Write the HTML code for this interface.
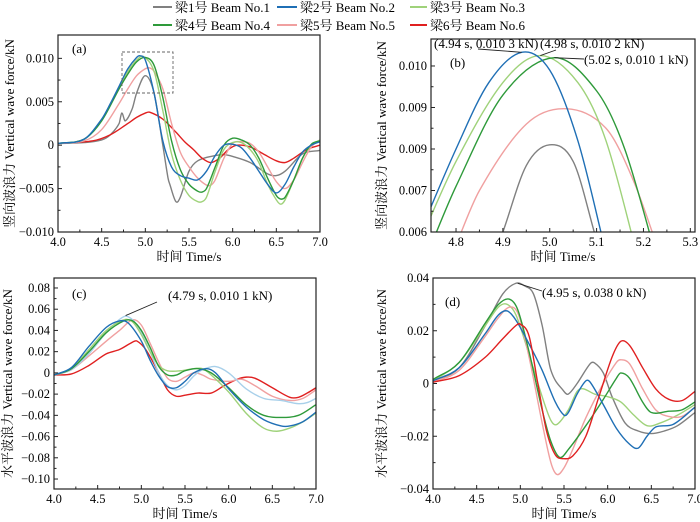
<!DOCTYPE html>
<html><head><meta charset="utf-8">
<style>
html,body{margin:0;padding:0;background:#fff;}
svg{display:block;font-family:"Liberation Serif","Noto Serif CJK SC","Noto Sans CJK SC",serif;}
</style></head>
<body>
<svg id="chart" width="700" height="522" viewBox="0 0 700 522" xmlns="http://www.w3.org/2000/svg">
<g id="legend" font-size="13">
  <g><line x1="153" y1="7" x2="172" y2="7" stroke="#808080" stroke-width="2"/><text x="175" y="12">梁1号 Beam No.1</text></g>
  <g><line x1="277" y1="7" x2="297" y2="7" stroke="#1f6fb5" stroke-width="2"/><text x="300" y="12">梁2号 Beam No.2</text></g>
  <g><line x1="410" y1="7" x2="427" y2="7" stroke="#9fd27a" stroke-width="2"/><text x="430" y="12">梁3号 Beam No.3</text></g>
  <g><line x1="153" y1="25" x2="172" y2="25" stroke="#2e9a3a" stroke-width="2"/><text x="175" y="30">梁4号 Beam No.4</text></g>
  <g><line x1="277" y1="25" x2="297" y2="25" stroke="#f0a0a0" stroke-width="2"/><text x="300" y="30">梁5号 Beam No.5</text></g>
  <g><line x1="410" y1="25" x2="427" y2="25" stroke="#e02020" stroke-width="2"/><text x="430" y="30">梁6号 Beam No.6</text></g>
</g>
</svg>
<script>
// ---------- Panel (a) data ----------
const aT1=[4.0,4.3,4.5,4.6,4.7,4.73,4.77,4.85,4.9,5.0,5.1,5.2,5.26,5.28,5.35,5.4,5.5,5.6,5.8,5.9,6.0,6.2,6.4,6.5,6.6,6.8,7.0];
const aV1=[0.0002,0.0003,0.0006,0.0012,0.0025,0.0037,0.0028,0.0042,0.006,0.008,0.006,0.0,-0.0038,-0.0045,-0.0065,-0.006,-0.003,-0.0018,-0.0012,-0.0011,-0.0013,-0.002,-0.0033,-0.0035,-0.003,-0.001,-0.0006];
const aT2=[4.0,4.3,4.5,4.6,4.7,4.8,4.9,4.94,5.0,5.1,5.2,5.3,5.4,5.5,5.6,5.7,5.8,5.9,6.0,6.1,6.2,6.3,6.4,6.5,6.6,6.7,6.8,6.9,7.0];
const aV2=[0.0002,0.0007,0.003,0.0048,0.0068,0.0088,0.0101,0.0103,0.0098,0.006,0.0005,-0.0025,-0.0035,-0.0038,-0.004,-0.003,-0.0012,0.0,0.0001,-0.0003,-0.0015,-0.003,-0.0045,-0.0055,-0.0045,-0.0025,-0.0008,0.0,0.0004];
const aT3=[4.0,4.3,4.5,4.7,4.8,4.9,4.98,5.1,5.2,5.3,5.4,5.5,5.6,5.65,5.7,5.8,5.9,6.0,6.1,6.2,6.3,6.4,6.5,6.55,6.6,6.7,6.8,6.9,7.0];
const aV3=[0.0002,0.0007,0.0029,0.0066,0.0085,0.0098,0.0102,0.0085,0.004,-0.001,-0.004,-0.0058,-0.0065,-0.0065,-0.006,-0.003,-0.0005,0.0003,0.0003,-0.0005,-0.002,-0.0045,-0.0063,-0.0068,-0.0063,-0.004,-0.0015,0.0,0.0006];
const aT4=[4.0,4.3,4.5,4.7,4.8,4.9,5.0,5.1,5.2,5.3,5.4,5.5,5.6,5.65,5.7,5.8,5.9,6.0,6.1,6.2,6.3,6.4,6.5,6.55,6.6,6.7,6.8,6.9,7.0];
const aV4=[0.0002,0.0007,0.0028,0.0065,0.0082,0.0096,0.0101,0.0092,0.0055,0.0005,-0.0028,-0.0045,-0.0053,-0.0054,-0.005,-0.0025,0.0,0.0008,0.0006,0.0,-0.0015,-0.0038,-0.0058,-0.0062,-0.006,-0.004,-0.0015,0.0001,0.0005];
const aT5=[4.0,4.3,4.5,4.7,4.8,4.9,5.0,5.05,5.1,5.2,5.3,5.4,5.5,5.6,5.7,5.75,5.8,5.9,6.0,6.1,6.2,6.3,6.4,6.5,6.6,6.7,6.8,6.9,7.0];
const aV5=[0.0002,0.0005,0.0018,0.0048,0.0065,0.008,0.0088,0.0089,0.0085,0.0065,0.0025,-0.0008,-0.0025,-0.0038,-0.0046,-0.0046,-0.004,-0.0015,0.0002,0.0004,0.0002,-0.0008,-0.0025,-0.0042,-0.005,-0.004,-0.002,-0.0002,0.0006];
const aT6=[4.0,4.4,4.6,4.8,4.9,5.0,5.05,5.2,5.35,5.45,5.55,5.65,5.75,5.85,5.95,6.05,6.2,6.35,6.5,6.6,6.7,6.85,7.0];
const aV6=[0.0002,0.0005,0.0012,0.0025,0.0032,0.0037,0.0038,0.003,0.0015,0.0004,-0.0005,-0.0015,-0.002,-0.0015,-0.0005,0.0,-0.0002,-0.001,-0.0018,-0.002,-0.0015,-0.0005,0.0];
const aXTicks=[4.0,4.5,5.0,5.5,6.0,6.5,7.0];
const aXLabels=["4.0","4.5","5.0","5.5","6.0","6.5","7.0"];
const aYTicks=[0.010,0.005,0,-0.005,-0.010];
const aYLabels=["0.010","0.005","0","\u22120.005","\u22120.010"];

// ---------- Panel (b) data ----------
const bT1=[4.87,4.9,4.95,5.0,5.05,5.095,5.12];
const bV1=[0.0051,0.006,0.0076,0.0081,0.0077,0.006,0.0049];
const bT2=[4.72,4.8,4.87,4.94,5.0,5.06,5.12];
const bV2=[0.0059,0.008,0.0096,0.01033,0.0099,0.0082,0.0055];
const bT3=[4.72,4.8,4.9,4.98,5.06,5.12,5.19];
const bV3=[0.0057,0.0077,0.0096,0.01025,0.0096,0.0082,0.0053];
const bT4=[4.74,4.8,4.9,5.01,5.1,5.16,5.23];
const bV4=[0.0055,0.0071,0.0093,0.0102,0.0094,0.0080,0.0053];
const bT5=[4.79,4.85,4.95,5.035,5.12,5.18,5.24];
const bV5=[0.0054,0.0070,0.0086,0.00897,0.0085,0.0072,0.0053];
const bXTicks=[4.8,4.9,5.0,5.1,5.2,5.3];
const bXLabels=["4.8","4.9","5.0","5.1","5.2","5.3"];
const bYTicks=[0.010,0.009,0.008,0.007,0.006];
const bYLabels=["0.010","0.009","0.009","0.007","0.006"];

// ---------- Panel (c) data ----------
const cT2=[4.0,4.2,4.4,4.6,4.75,4.85,5.0,5.1,5.2,5.3,5.4,5.5,5.6,5.75,5.85,6.0,6.2,6.4,6.6,6.7,6.85,7.0];
const cV2=[-0.002,0.005,0.025,0.043,0.049,0.047,0.03,0.012,-0.003,-0.013,-0.014,-0.008,0.0,0.004,0.0,-0.015,-0.032,-0.044,-0.05,-0.05,-0.046,-0.037];
const cTL=[4.0,4.2,4.4,4.6,4.8,4.9,5.0,5.1,5.2,5.3,5.4,5.5,5.6,5.7,5.85,6.0,6.2,6.4,6.6,6.8,6.9,7.0];
const cVL=[-0.002,0.003,0.018,0.038,0.053,0.05,0.038,0.02,0.0,-0.012,-0.016,-0.012,-0.003,0.003,0.006,0.0,-0.015,-0.024,-0.026,-0.029,-0.028,-0.024];
const cT3=[4.0,4.2,4.4,4.6,4.8,4.9,5.0,5.1,5.2,5.3,5.45,5.6,5.7,5.8,6.0,6.2,6.4,6.55,6.7,6.85,7.0];
const cV3=[-0.002,0.004,0.022,0.04,0.05,0.048,0.036,0.02,0.007,0.002,0.002,0.004,0.004,-0.002,-0.018,-0.038,-0.052,-0.055,-0.052,-0.046,-0.038];
const cT4=[4.0,4.2,4.4,4.6,4.8,4.9,5.0,5.1,5.2,5.3,5.4,5.5,5.65,5.8,6.0,6.2,6.4,6.6,6.8,7.0];
const cV4=[-0.002,0.004,0.02,0.038,0.049,0.049,0.04,0.024,0.006,-0.002,-0.002,0.002,0.004,0.0,-0.014,-0.03,-0.04,-0.042,-0.04,-0.03];
const cT5=[4.0,4.2,4.4,4.6,4.75,4.9,5.0,5.1,5.2,5.3,5.4,5.5,5.6,5.7,5.8,6.0,6.15,6.3,6.5,6.7,6.85,7.0];
const cV5=[-0.002,0.003,0.016,0.03,0.04,0.05,0.045,0.028,0.01,-0.005,-0.008,-0.004,0.0,-0.002,-0.006,-0.008,-0.006,-0.012,-0.022,-0.026,-0.024,-0.016];
const cT6=[4.0,4.2,4.4,4.6,4.75,4.9,4.95,5.05,5.2,5.3,5.4,5.5,5.65,5.8,5.95,6.1,6.2,6.3,6.5,6.7,6.8,6.9,7.0];
const cV6=[-0.002,-0.001,0.007,0.018,0.022,0.029,0.03,0.022,0.0,-0.016,-0.022,-0.021,-0.019,-0.019,-0.012,-0.006,-0.004,-0.005,-0.014,-0.023,-0.023,-0.019,-0.014];
const cXTicks=[4.0,4.5,5.0,5.5,6.0,6.5,7.0];
const cXLabels=["4.0","4.5","5.0","5.5","6.0","6.5","7.0"];
const cYTicks=[0.08,0.06,0.04,0.02,0,-0.02,-0.04,-0.06,-0.08,-0.10];
const cYLabels=["0.08","0.06","0.04","0.02","0","\u22120.02","\u22120.04","\u22120.06","\u22120.08","\u22120.10"];

// ---------- Panel (d) data ----------
const dT1=[4.0,4.3,4.6,4.8,4.95,5.05,5.15,5.25,5.35,5.5,5.55,5.65,5.8,5.85,5.95,6.05,6.2,6.35,6.5,6.65,6.8,7.0];
const dV1=[0.001,0.006,0.022,0.034,0.038,0.037,0.034,0.022,0.005,-0.003,-0.004,0.0,0.0075,0.0078,0.004,-0.005,-0.015,-0.018,-0.019,-0.018,-0.016,-0.011];
const dT2=[4.0,4.3,4.6,4.75,4.85,4.95,5.1,5.25,5.4,5.5,5.55,5.65,5.75,5.8,5.95,6.1,6.25,6.35,6.45,6.55,6.75,7.0];
const dV2=[0.001,0.006,0.019,0.026,0.0275,0.024,0.015,0.005,-0.007,-0.012,-0.011,-0.004,0.001,0.0005,-0.008,-0.017,-0.023,-0.0245,-0.02,-0.0165,-0.0155,-0.009];
const dT3=[4.0,4.3,4.6,4.75,4.85,4.95,5.1,5.25,5.35,5.42,5.55,5.65,5.72,5.85,6.0,6.15,6.3,6.45,6.6,6.8,7.0];
const dV3=[0.001,0.008,0.022,0.029,0.03,0.026,0.011,-0.005,-0.014,-0.0155,-0.01,-0.003,-0.002,-0.004,-0.005,-0.007,-0.012,-0.016,-0.015,-0.012,-0.008];
const dT4=[4.0,4.3,4.6,4.75,4.87,4.97,5.1,5.25,5.35,5.45,5.55,5.75,5.95,6.1,6.15,6.25,6.4,6.5,6.7,6.85,7.0];
const dV4=[0.0015,0.008,0.023,0.03,0.032,0.028,0.012,-0.01,-0.022,-0.028,-0.025,-0.016,-0.006,0.002,0.004,0.002,-0.007,-0.011,-0.0105,-0.01,-0.007];
const dT5=[4.0,4.3,4.6,4.75,4.88,4.98,5.1,5.25,5.35,5.42,5.5,5.6,5.75,5.95,6.1,6.15,6.25,6.4,6.55,6.7,6.85,7.0];
const dV5=[0.0005,0.005,0.018,0.025,0.029,0.026,0.01,-0.015,-0.03,-0.0345,-0.032,-0.025,-0.013,0.0,0.008,0.009,0.0075,-0.002,-0.01,-0.0125,-0.0125,-0.009];
const dT6=[4.0,4.3,4.6,4.8,4.95,5.0,5.1,5.2,5.3,5.4,5.5,5.6,5.75,5.9,6.05,6.15,6.25,6.4,6.55,6.7,6.85,7.0];
const dV6=[0.0005,0.003,0.01,0.017,0.022,0.0225,0.018,0.0,-0.018,-0.027,-0.0285,-0.0275,-0.02,-0.005,0.01,0.016,0.0145,0.006,-0.002,-0.006,-0.0065,-0.003];
const dXTicks=[4.0,4.5,5.0,5.5,6.0,6.5,7.0];
const dXLabels=["4.0","4.5","5.0","5.5","6.0","6.5","7.0"];
const dYTicks=[0.04,0.02,0,-0.02,-0.04];
const dYLabels=["0.04","0.02","0","\u22120.02","\u22120.04"];

const C={g:"#808080",b:"#1f6fb5",lg:"#9fd27a",gr:"#2e9a3a",p:"#f0a0a0",r:"#e02020",lb:"#a8d0ea"};
const NS="http://www.w3.org/2000/svg";
const svg=document.getElementById('chart');
function mk(tag,attrs,parent){const e=document.createElementNS(NS,tag);for(const k in attrs)e.setAttribute(k,attrs[k]);(parent||svg).appendChild(e);return e;}

// Hermite spline in x (handles uneven spacing smoothly)
function smoothPath(pts){
  const n=pts.length, m=[];
  for(let i=0;i<n;i++){
    if(i===0) m.push((pts[1][1]-pts[0][1])/(pts[1][0]-pts[0][0]));
    else if(i===n-1) m.push((pts[n-1][1]-pts[n-2][1])/(pts[n-1][0]-pts[n-2][0]));
    else m.push((pts[i+1][1]-pts[i-1][1])/(pts[i+1][0]-pts[i-1][0]));
  }
  let d="M"+pts[0][0].toFixed(2)+","+pts[0][1].toFixed(2);
  for(let i=0;i<n-1;i++){
    const p1=pts[i],p2=pts[i+1],dx=(p2[0]-p1[0])/3;
    d+=" C"+(p1[0]+dx).toFixed(2)+","+(p1[1]+m[i]*dx).toFixed(2)+" "+(p2[0]-dx).toFixed(2)+","+(p2[1]-m[i+1]*dx).toFixed(2)+" "+p2[0].toFixed(2)+","+p2[1].toFixed(2);
  }
  return d;
}

let clipId=0;
function panel(o){
  const g=mk('g',{});
  
  
  const X=v=>o.x0+(v-o.xmin)/(o.xmax-o.xmin)*(o.x1-o.x0);
  const Y=v=>o.y1-(v-o.ymin)/(o.ymax-o.ymin)*(o.y1-o.y0);
  const cid='clip'+(clipId++);
  const cp=mk('clipPath',{id:cid},g);
  mk('rect',{x:o.x0,y:o.y0,width:o.x1-o.x0,height:o.y1-o.y0},cp);
  const sg=mk('g',{'clip-path':'url(#'+cid+')'},g);
  o.series.forEach(s=>{
    const pts=s.t.map((t,i)=>[X(t),Y(s.v[i])]);
    const p=mk('path',{d:smoothPath(pts),fill:'none',stroke:s.c,'stroke-width':1.4},sg);
    
    
  });
  const box=mk('rect',{x:o.x0,y:o.y0,width:o.x1-o.x0,height:o.y1-o.y0,fill:'none',stroke:'#222','stroke-width':1.2},g);
  
  
  const xa=mk('g',{'font-size':12.5,'text-anchor':'middle'},g);
  
  
  o.xt.forEach((v,i)=>{
    const x=X(v);
    mk('line',{x1:x,x2:x,y1:o.y1,y2:o.y1-4,stroke:'#222'},xa);
    if(i<o.xt.length-1){const xm=X((v+o.xt[i+1])/2);mk('line',{x1:xm,x2:xm,y1:o.y1,y2:o.y1-2.5,stroke:'#222'},xa);}
    const t=mk('text',{x:x,y:o.y1+14},xa);t.textContent=o.xl[i];
  });
  const ya=mk('g',{'font-size':12.5,'text-anchor':'end'},g);
  
  
  o.yt.forEach((v,i)=>{
    const y=Y(v);
    mk('line',{x1:o.x0,x2:o.x0+4,y1:y,y2:y,stroke:'#222'},ya);
    if(i<o.yt.length-1){const ym=Y((v+o.yt[i+1])/2);mk('line',{x1:o.x0,x2:o.x0+2.5,y1:ym,y2:ym,stroke:'#222'},ya);}
    const t=mk('text',{x:o.x0-4,y:y+4},ya);t.textContent=o.yl[i];
  });
  const xt=mk('text',{x:(o.x0+o.x1)/2,y:o.y1+29,'font-size':13,'text-anchor':'middle'},g);
  xt.textContent="时间 Time/s";
  
  
  const ty=(o.y0+o.y1)/2;
  const yt=mk('text',{x:o.ytx,y:ty,'font-size':13,'text-anchor':'middle',transform:'rotate(-90 '+o.ytx+' '+ty+')'},g);
  yt.textContent=o.ytitle;
  
  
  const pl=mk('text',{x:o.lx,y:o.ly,'font-size':13},g);
  pl.textContent=o.label;
  
  
  return {g,X,Y};
}

const A=panel({name:'panel-a',x0:58,x1:320,y0:35,y1:232,xmin:4,xmax:7,ymin:-0.010,ymax:0.01269,
  xt:aXTicks,xl:aXLabels,yt:aYTicks,yl:aYLabels,ytx:14,ytitle:"竖向波浪力 Vertical wave force/kN",lx:72,ly:53,label:"(a)",
  series:[{t:aT1,v:aV1,c:C.g,n:'a-beam1-line'},{t:aT6,v:aV6,c:C.r,n:'a-beam6-line'},{t:aT5,v:aV5,c:C.p,n:'a-beam5-line'},{t:aT3,v:aV3,c:C.lg,n:'a-beam3-line'},{t:aT4,v:aV4,c:C.gr,n:'a-beam4-line'},{t:aT2,v:aV2,c:C.b,n:'a-beam2-line'}]});
const zr=mk('rect',{x:122,y:52,width:51,height:41,fill:'none',stroke:'#666','stroke-dasharray':'3,2','stroke-width':0.9},A.g);



const B=panel({name:'panel-b',x0:431,x1:695,y0:39,y1:232,xmin:4.7466,xmax:5.31,ymin:0.006,ymax:0.01065,
  xt:bXTicks,xl:bXLabels,yt:bYTicks,yl:bYLabels,ytx:386,ytitle:"竖向波浪力 Vertical wave force/kN",lx:450,ly:67,label:"(b)",
  series:[{t:bT1,v:bV1,c:C.g,n:'b-beam1-line'},{t:bT5,v:bV5,c:C.p,n:'b-beam5-line'},{t:bT3,v:bV3,c:C.lg,n:'b-beam3-line'},{t:bT4,v:bV4,c:C.gr,n:'b-beam4-line'},{t:bT2,v:bV2,c:C.b,n:'b-beam2-line'}]});
function annot(P,tx,ty,px,py,lx,ly,txt,name){
  const g=mk('g',{},P.g);
  
  
  mk('line',{x1:lx,y1:ly,x2:P.X(px),y2:P.Y(py),stroke:'#222','stroke-width':0.9},g);
  const t=mk('text',{x:tx,y:ty,'font-size':13},g);t.textContent=txt;
}
annot(B,434,48,4.94,0.01033,478,49,"(4.94 s, 0.010 3 kN)",'b-annotation-beam2');
annot(B,540,48,4.98,0.01025,556,50,"(4.98 s, 0.010 2 kN)",'b-annotation-beam3');
annot(B,584,64,5.01,0.0102,584,59,"(5.02 s, 0.010 1 kN)",'b-annotation-beam4');

const Cp=panel({name:'panel-c',x0:54,x1:316,y0:278,y1:489,xmin:4,xmax:7,ymin:-0.1094,ymax:0.0894,
  xt:cXTicks,xl:cXLabels,yt:cYTicks,yl:cYLabels,ytx:12,ytitle:"水平波浪力 Vertical wave force/kN",lx:72,ly:298,label:"(c)",
  series:[{t:cT6,v:cV6,c:C.r,n:'c-beam6-line'},{t:cT5,v:cV5,c:C.p,n:'c-beam5-line'},{t:cTL,v:cVL,c:C.lb,n:'c-beam1-line'},{t:cT3,v:cV3,c:C.lg,n:'c-beam3-line'},{t:cT4,v:cV4,c:C.gr,n:'c-beam4-line'},{t:cT2,v:cV2,c:C.b,n:'c-beam2-line'}]});
annot(Cp,168,300,4.82,0.054,157,302,"(4.79 s, 0.010 1 kN)",'c-annotation');

const D=panel({name:'panel-d',x0:433,x1:695,y0:278,y1:489,xmin:4,xmax:7,ymin:-0.04,ymax:0.04,
  xt:dXTicks,xl:dXLabels,yt:dYTicks,yl:dYLabels,ytx:386,ytitle:"水平波浪力 Vertical wave force/kN",lx:445,ly:306,label:"(d)",
  series:[{t:dT1,v:dV1,c:C.g,n:'d-beam1-line'},{t:dT3,v:dV3,c:C.lg,n:'d-beam3-line'},{t:dT5,v:dV5,c:C.p,n:'d-beam5-line'},{t:dT4,v:dV4,c:C.gr,n:'d-beam4-line'},{t:dT2,v:dV2,c:C.b,n:'d-beam2-line'},{t:dT6,v:dV6,c:C.r,n:'d-beam6-line'}]});
annot(D,542,297,4.97,0.038,542,291,"(4.95 s, 0.038 0 kN)",'d-annotation');
</script>
</body></html>
